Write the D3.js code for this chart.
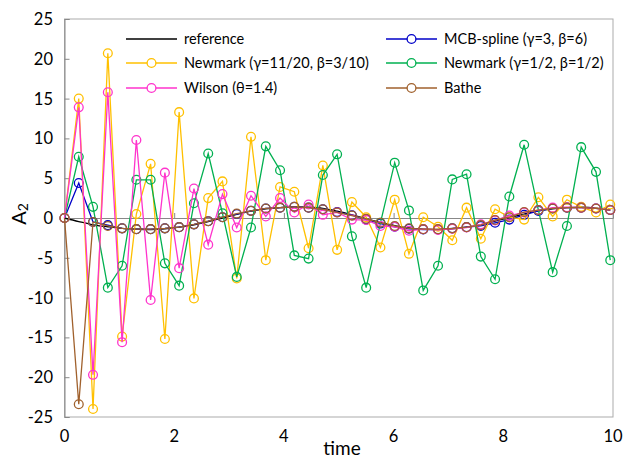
<!DOCTYPE html>
<html>
<head>
<meta charset="utf-8">
<script src="https://cdn.jsdelivr.net/npm/d3@7"></script>
<style>
  body { margin: 0; background: #fff; }
  text { font-family: Lato, "Open Sans", sans-serif; fill: #000; }
</style>
</head>
<body>
<svg id="chart" width="627" height="460"></svg>
<script>
// time steps (dt = pi/12)
const time = [0, 0.26, 0.52, 0.79, 1.05, 1.31, 1.57, 1.83, 2.09, 2.36, 2.62, 2.88, 3.14, 3.40, 3.67, 3.93, 4.19, 4.45, 4.71, 4.97,
  5.24, 5.50, 5.76, 6.02, 6.28, 6.54, 6.81, 7.07, 7.33, 7.59, 7.85, 8.11, 8.38, 8.64, 8.90, 9.16, 9.42, 9.69, 9.95];

const reference = [0, -0.45, -0.85, -1.1, -1.3, -1.4, -1.45, -1.35, -1.15, -0.85, -0.45, 0.0, 0.45, 0.85, 1.15, 1.3, 1.4, 1.35, 1.2, 0.85,
  0.4, -0.1, -0.55, -0.95, -1.25, -1.4, -1.45, -1.35, -1.15, -0.85, -0.4, 0.05, 0.5, 0.9, 1.15, 1.3, 1.35, 1.25, 1.0];
const mcbSpline = [0, 4.4, -0.5, -0.9, -1.3, -1.4, -1.4, -1.3, -1.15, -0.8, -0.4, 0.1, 0.5, 0.9, 1.2, 1.3, 1.4, 1.3, 1.1, 0.75,
  0.35, -0.2, -0.7, -1.1, -1.35, -1.45, -1.45, -1.3, -1.15, -1.0, -0.6, -0.2, 0.4, 0.9, 1.2, 1.3, 1.3, 1.2, 1.0];
const newmark1120 = [0, 15.0, -24.0, 20.7, -14.9, 0.5, 6.8, -15.2, 13.3, -10.1, 2.5, 4.6, -7.6, 10.2, -5.3, 3.9, 3.3, -3.8, 6.6, -4.0,
  2.0, 0.1, -3.7, 2.3, -4.5, 0.1, -1.1, -2.8, 1.3, -2.6, 1.1, 0.1, -0.2, 2.6, 0.2, 2.3, 1.4, 0.7, 1.7];
const newmark1212 = [0, 7.7, 1.4, -8.75, -6.0, 4.8, 4.8, -5.7, -8.5, 1.85, 8.1, 0.6, -7.4, -1.2, 9.0, 6.0, -4.7, -5.1, 5.4, 8.0,
  -2.3, -8.75, -0.6, 6.95, 0.95, -9.1, -6.0, 4.85, 5.5, -4.85, -7.7, 2.7, 9.2, 1.0, -6.8, -1.0, 8.9, 5.8, -5.3];
const wilson = [0, 13.9, -19.7, 15.8, -15.6, 9.8, -10.3, 5.7, -6.3, 3.7, -3.35, 3.0, -1.2, 2.8, 0.2, 2.5, 0.7, 1.7, 0.4, 0.7,
  -0.2, -0.25, -1.0, -1.1, -1.6, -1.4, -1.5, -1.35, -1.2, -0.8, -0.3, 0.3, 0.7, 1.0, 1.3, 1.35, 1.3, 1.2, 1.0];
const bathe = [0, -23.4, -0.5, -1.0, -1.3, -1.4, -1.4, -1.3, -1.15, -0.8, -0.4, 0.1, 0.55, 0.9, 1.2, 1.3, 1.4, 1.3, 1.1, 0.7,
  0.3, -0.1, -0.6, -1.0, -1.3, -1.4, -1.4, -1.3, -1.15, -0.9, -0.25, 0.1, 0.75, 1.0, 1.2, 1.3, 1.3, 1.2, 1.0];

const xTicks = [0, 2, 4, 6, 8, 10];
const yTicks = [-25, -20, -15, -10, -5, 0, 5, 10, 15, 20, 25];

// series in Excel order (last one drawn on top)
const series = [
  { name: "reference", values: reference, color: "#000000", marker: false },
  { name: "MCB-spline (γ=3, β=6)", values: mcbSpline, color: "#0000C8", marker: true },
  { name: "Newmark (γ=11/20, β=3/10)", values: newmark1120, color: "#FFC000", marker: true },
  { name: "Newmark (γ=1/2, β=1/2)", values: newmark1212, color: "#00B050", marker: true },
  { name: "Wilson (θ=1.4)", values: wilson, color: "#FF33CC", marker: true },
  { name: "Bathe", values: bathe, color: "#A0612D", marker: true }
];

const svg = d3.select("#chart");
const plot = { left: 64.5, right: 613, top: 19, bottom: 417 };

const x = d3.scaleLinear().domain([0, 10]).range([plot.left, plot.right]);
const y = d3.scaleLinear().domain([-25, 25]).range([plot.bottom, plot.top]);

// plot frame
svg.append("rect")
  .attr("x", plot.left).attr("y", plot.top)
  .attr("width", plot.right - plot.left).attr("height", plot.bottom - plot.top)
  .attr("fill", "none").attr("stroke", "#ABABAB").attr("stroke-width", 1);

// left axis with inside ticks
const yAxis = svg.append("g")
  .attr("transform", "translate(" + plot.left + ",0)")
  .call(d3.axisRight(y).tickValues(yTicks).tickSize(5).tickFormat(""));
yAxis.select(".domain").attr("stroke", "#888");
yAxis.selectAll(".tick line").attr("stroke", "#888");

yTicks.forEach(function(v) {
  svg.append("text")
    .attr("x", 53).attr("y", y(v))
    .attr("dy", "0.36em")
    .attr("text-anchor", "end")
    .attr("font-size", 16.5)
    .text(v);
});

// horizontal axis crossing at 0, ticks pointing up
const xAxis = svg.append("g")
  .attr("transform", "translate(0," + y(0) + ")")
  .call(d3.axisTop(x).tickValues(xTicks).tickSize(5).tickFormat(""));
xAxis.select(".domain").attr("stroke", "#888");
xAxis.selectAll(".tick line").attr("stroke", "#888");

xTicks.forEach(function(v) {
  svg.append("text")
    .attr("x", x(v)).attr("y", 442)
    .attr("text-anchor", "middle")
    .attr("font-size", 16.5)
    .text(v);
});

// axis titles
svg.append("text")
  .attr("x", 342).attr("y", 455)
  .attr("text-anchor", "middle")
  .attr("font-size", 19)
  .text("time");

const ylab = svg.append("text")
  .attr("transform", "translate(26,214) rotate(-90)")
  .attr("text-anchor", "middle")
  .attr("font-size", 20);
ylab.append("tspan").text("A");
ylab.append("tspan").attr("font-size", 14).attr("dy", 2).text("2");

// lines and markers
const straight = d3.line()
  .x(function(d) { return x(d.t); })
  .y(function(d) { return y(d.v); });
const smooth = d3.line()
  .curve(d3.curveCatmullRom)
  .x(function(d) { return x(d.t); })
  .y(function(d) { return y(d.v); });

series.forEach(function(s) {
  const pts = time.map(function(t, i) { return { t: t, v: s.values[i] }; });
  svg.append("path")
    .datum(pts)
    .attr("fill", "none")
    .attr("stroke", s.color)
    .attr("stroke-width", 1.3)
    .attr("d", s.marker ? straight(pts) : smooth(pts));
  if (s.marker) {
    svg.append("g")
      .selectAll("circle")
      .data(pts)
      .enter()
      .append("circle")
        .attr("cx", function(d) { return x(d.t); })
        .attr("cy", function(d) { return y(d.v); })
        .attr("r", 4.4)
        .attr("fill", "none")
        .attr("stroke", s.color)
        .attr("stroke-width", 1.3);
  }
});

// legend, filled row by row in two columns
const legendCols = [126, 386];
const legendRows = [39, 63, 88];
series.forEach(function(s, i) {
  const lx = legendCols[i % 2], ly = legendRows[Math.floor(i / 2)];
  const g = svg.append("g");
  g.append("line")
    .attr("x1", lx).attr("x2", lx + 51)
    .attr("y1", ly).attr("y2", ly)
    .attr("stroke", s.color).attr("stroke-width", 1.3);
  if (s.marker) {
    g.append("circle")
      .attr("cx", lx + 25.5).attr("cy", ly).attr("r", 4.4)
      .attr("fill", "#fff").attr("stroke", s.color).attr("stroke-width", 1.3);
  }
  g.append("text")
    .attr("x", lx + 58).attr("y", ly)
    .attr("dy", "0.35em")
    .attr("font-size", 14.5)
    .text(s.name);
});
</script>
</body>
</html>
